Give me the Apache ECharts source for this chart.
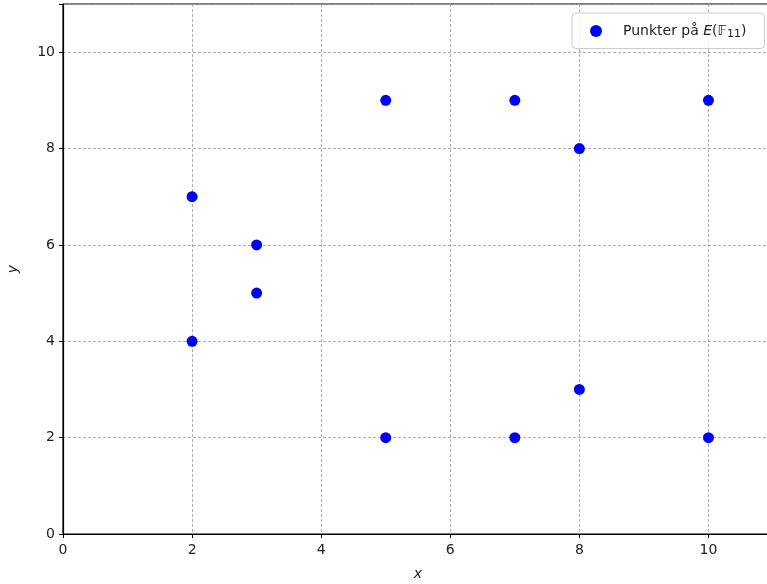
<!DOCTYPE html>
<html>
<head>
<meta charset="utf-8">
<script src="https://cdn.jsdelivr.net/npm/echarts@6/dist/echarts.min.js"></script>
<style>
  html, body { margin: 0; padding: 0; background: #fff; }
  #chart { width: 767px; height: 584px; }
</style>
</head>
<body>
<div id="chart"></div>
<script>
// Points on the elliptic curve over F_11
const xs = [2, 2, 3, 3, 5, 5, 7, 7, 8, 8, 10, 10];
const ys = [7, 4, 6, 5, 9, 2, 9, 2, 8, 3, 9, 2];
const seriesName = 'Punkter på E(F11)';

const points = xs.map((x, i) => [x, ys[i]]);
const font = 'DejaVu Sans';

const chart = echarts.init(document.getElementById('chart'));
chart.setOption({
  animation: false,
  backgroundColor: '#fff',
  grid: {
    left: 63, top: 4, height: 530, width: 710,
    outerBoundsMode: 'none',
    show: true, borderColor: '#000', borderWidth: 1.2, backgroundColor: 'transparent'
  },
  xAxis: {
    type: 'value', min: 0, max: 11, interval: 2,
    name: 'x', nameLocation: 'middle', nameGap: 33,
    nameTextStyle: { fontFamily: font, fontStyle: 'italic', fontSize: 14, color: '#222' },
    axisLine: { show: true, onZero: false, lineStyle: { color: '#000', width: 1.2 } },
    axisTick: { show: true, length: 4, lineStyle: { color: '#000' } },
    axisLabel: { fontFamily: font, fontSize: 14, color: '#222', margin: 9,
      formatter: v => (v > 10 ? '' : String(v)) },
    splitLine: { show: true, lineStyle: { color: '#999', type: [3, 2], width: 0.8 } }
  },
  yAxis: {
    type: 'value', min: 0, max: 11, interval: 2,
    name: 'y', nameLocation: 'middle', nameGap: 43, nameRotate: 90,
    nameTextStyle: { fontFamily: font, fontStyle: 'italic', fontSize: 14, color: '#222' },
    axisLine: { show: true, onZero: false, lineStyle: { color: '#000', width: 1.2 } },
    axisTick: { show: true, length: 4, lineStyle: { color: '#000' } },
    axisLabel: { fontFamily: font, fontSize: 14, color: '#222', margin: 8,
      formatter: v => (v > 10 ? '' : String(v)) },
    splitLine: { show: true, lineStyle: { color: '#999', type: [3, 2], width: 0.8 } }
  },
  legend: {
    left: 572, top: 13,
    orient: 'vertical',
    padding: [11, 18, 9, 18],
    itemGap: 0,
    itemWidth: 12, itemHeight: 12,
    backgroundColor: 'rgba(255,255,255,0.8)',
    borderColor: '#ccc', borderWidth: 1, borderRadius: 4,
    data: [{ name: seriesName, icon: 'circle' }],
    formatter: () => '{a|Punkter på }{i|E}{a|(}{f|𝔽}{s|11}{a|)}',
    textStyle: {
      fontFamily: font, fontSize: 14, color: '#222', padding: [0, 0, 0, 16],
      rich: {
        a: { fontFamily: font, fontSize: 14, color: '#222' },
        i: { fontFamily: font, fontSize: 14, color: '#222', fontStyle: 'italic' },
        f: { fontFamily: font, fontSize: 14, color: '#222' },
        s: { fontFamily: font, fontSize: 11, color: '#222', verticalAlign: 'bottom', padding: [6, 0, 0, 0] }
      }
    }
  },
  series: [{
    name: seriesName,
    type: 'scatter',
    data: points,
    symbol: 'circle',
    symbolSize: 11,
    itemStyle: { color: '#0000ff', opacity: 1 }
  }]
});
</script>
</body>
</html>
